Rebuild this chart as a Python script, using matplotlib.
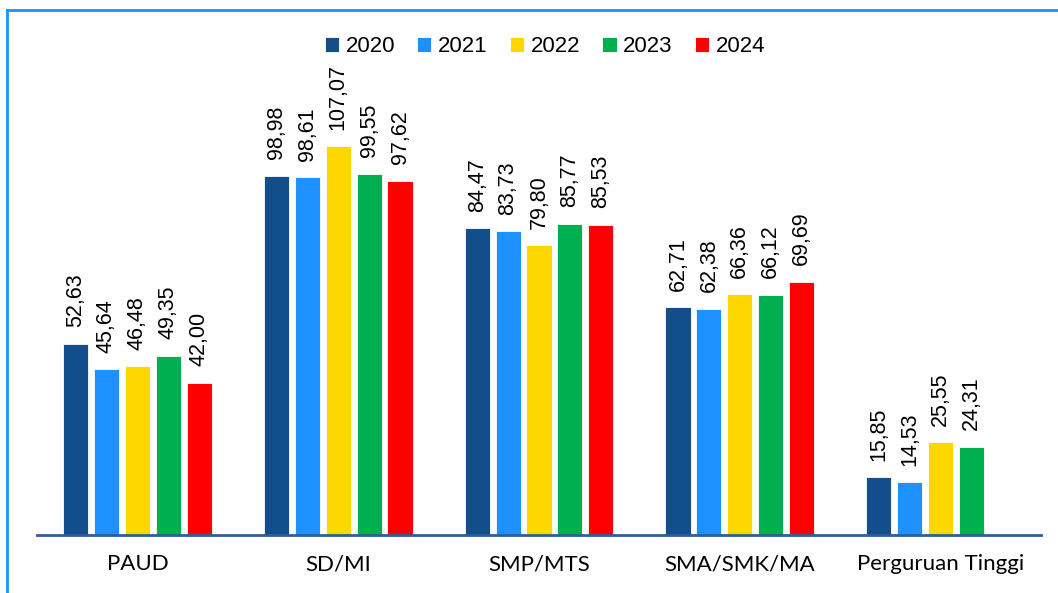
import numpy as np
import matplotlib
matplotlib.use("Agg")
import matplotlib.pyplot as plt
from matplotlib.lines import Line2D

categories = ["PAUD", "SD/MI", "SMP/MTS", "SMA/SMK/MA", "Perguruan Tinggi"]
years = ["2020", "2021", "2022", "2023", "2024"]
v2020 = [52.63, 98.98, 84.47, 62.71, 15.85]
v2021 = [45.64, 98.61, 83.73, 62.38, 14.53]
v2022 = [46.48, 107.07, 79.80, 66.36, 25.55]
v2023 = [49.35, 99.55, 85.77, 66.12, 24.31]
v2024 = [42.00, 97.62, 85.53, 69.69, np.nan]
series = [v2020, v2021, v2022, v2023, v2024]
colors = ["#124E8B", "#1E90FF", "#FFD700", "#00B050", "#FF0000"]

W, H = 1058, 593
fig = plt.figure(figsize=(W / 100, H / 100), dpi=100)
ax = fig.add_axes([37 / W, (H - 535) / H, (1041 - 37) / W, 508 / H])

x = np.arange(len(categories))
step = 0.154
width = 0.125
for i, (vals, col, yr) in enumerate(zip(series, colors, years)):
    pos = x + (i - 2) * step
    vals = np.asarray(vals, dtype=float)
    mask = ~np.isnan(vals)
    bars = ax.bar(pos[mask], vals[mask], width=width, color=col,
                  edgecolor="#FFFFFF", linewidth=0.6, label=yr, zorder=2)
    for b, v in zip(bars, vals[mask]):
        ax.annotate(f"{v:.2f}".replace(".", ","),
                    xy=(b.get_x() + b.get_width() / 2, v),
                    xytext=(0, 12), textcoords="offset points",
                    rotation=90, ha="center", va="bottom",
                    fontsize=15.5, family="Liberation Sans", color="#000000")

ax.set_xlim(-0.5, len(categories) - 0.5)
ax.set_ylim(0, 140)
ax.set_yticks([])
ax.set_xticks(x)
ax.set_xticklabels(categories, fontsize=16, family="Lato")
ax.tick_params(axis="x", length=0, pad=14)
for s in ["top", "right", "left"]:
    ax.spines[s].set_visible(False)
ax.spines["bottom"].set_color("#2F5F97")
ax.spines["bottom"].set_linewidth(2)

leg = ax.legend(loc="center", bbox_to_anchor=(545 / W, 1 - 47 / H),
                bbox_transform=fig.transFigure, ncol=5, frameon=False,
                prop={"family": "Liberation Sans", "size": 16},
                handlelength=0.64, handleheight=0.64, handletextpad=0.3,
                columnspacing=1.0, borderaxespad=0)

# light blue frame around the figure
fig.add_artist(Line2D([7 / W, 7 / W], [0, 1 - 10 / H], transform=fig.transFigure,
                      color="#1E90FF", linewidth=2))
fig.add_artist(Line2D([7 / W, 1], [1 - 10 / H, 1 - 10 / H], transform=fig.transFigure,
                      color="#1E90FF", linewidth=2))

fig.savefig("out.png", dpi=100)
